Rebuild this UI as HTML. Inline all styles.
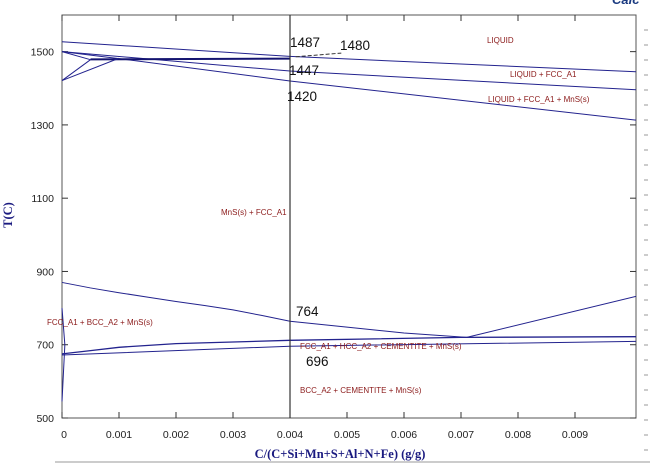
<!DOCTYPE html>
<html><head><meta charset="utf-8"><style>
body{margin:0;background:#fff;width:650px;height:464px;overflow:hidden}
svg{display:block;font-family:"Liberation Sans",sans-serif}
</style></head><body>
<svg id="c" width="650" height="464"></svg>
<script>
const xTicks=[0,0.001,0.002,0.003,0.004,0.005,0.006,0.007,0.008,0.009];
const xTickLabels=["0","0.001","0.002","0.003","0.004","0.005","0.006","0.007","0.008","0.009"];
const yTicks=[500,700,900,1100,1300,1500];
const liquidus=[[0,1527],[0.004,1487],[0.01007,1445]];
const solidusFcc=[[0,1500],[0.004,1447],[0.01007,1396]];
const solidusMns=[[0,1500],[0.001,1481],[0.004,1420],[0.01007,1313]];
const peritectic=[[0.0005,1479],[0.004,1481]];
const deltaA=[[0,1421],[0.0005,1478]];
const deltaB=[[0,1421],[0.001,1482]];
const deltaC=[[0,1500],[0.0005,1478]];
const a3=[[0,870],[0.0005,855],[0.001,842],[0.0015,830],[0.002,818],[0.0025,807],[0.003,795],[0.0035,780],[0.004,764],[0.005,748],[0.006,732],[0.0071,720]];
const acm=[[0.0071,720],[0.01007,832]];
const a1Upper=[[0,675],[0.0005,684],[0.001,693],[0.002,703],[0.004,712],[0.007,720],[0.01007,722]];
const a1Lower=[[0,672],[0.004,696],[0.01007,709]];
const spike=[[0,800],[0.00005,700],[0,545]];
const NS="http://www.w3.org/2000/svg";
const svg=document.getElementById('c');
const L=62,R=636,T=15,B=418,X0=0,X1=0.01007,Y0=500,Y1=1600;
const sx=v=>L+(v-X0)/(X1-X0)*(R-L);
const sy=v=>B-(v-Y0)/(Y1-Y0)*(B-T);
function el(tag,attrs,name,txt){const e=document.createElementNS(NS,tag);for(const k in attrs)e.setAttribute(k,attrs[k]);


if(txt!==undefined)e.textContent=txt;svg.appendChild(e);return e;}
el('rect',{x:L,y:T,width:R-L,height:B-T,fill:'none',stroke:'#555','stroke-width':1},'plot-frame');
xTicks.forEach((t,i)=>{el('line',{x1:sx(t),x2:sx(t),y1:B,y2:B-6,stroke:'#333'},'x-tick');
el('line',{x1:sx(t),x2:sx(t),y1:T,y2:T+6,stroke:'#333'},'x-tick-top');
el('text',{x:sx(t)+(i==0?2:0),y:B+20,'font-size':10.5,'text-anchor':'middle',fill:'#222'},'x-tick-label',xTickLabels[i]);});
yTicks.forEach(t=>{el('line',{x1:L,x2:L+6,y1:sy(t),y2:sy(t),stroke:'#333'},'y-tick');
el('line',{x1:R,x2:R-6,y1:sy(t),y2:sy(t),stroke:'#333'},'y-tick-right');
el('text',{x:L-8,y:sy(t)+4,'font-size':10.5,'text-anchor':'end',fill:'#222'},'y-tick-label',String(t));});
function line(pts,name,w,col){el('polyline',{points:pts.map(p=>sx(p[0])+','+sy(p[1])).join(' '),fill:'none',stroke:col||'#23238e','stroke-width':w||1},name);}
line(liquidus,'liquidus-line');line(solidusFcc,'solidus-fcc-line');line(solidusMns,'mns-line');
line(peritectic,'peritectic-line',2,'#141470');line(deltaA,'delta-line-a');line(deltaB,'delta-line-b');line(deltaC,'delta-line-c');
line(a3,'a3-line');line(acm,'acm-line');line(a1Upper,'a1-upper-line',1.3);line(a1Lower,'a1-lower-line');line(spike,'spike-line');
el('line',{x1:sx(0.004),x2:sx(0.004),y1:T,y2:B,stroke:'#333','stroke-width':1.2},'composition-marker');
el('line',{x1:sx(0.0041),x2:sx(0.0049),y1:sy(1486),y2:sy(1496),stroke:'#333','stroke-dasharray':'4,2'},'leader-line');
const nums=[["1487",290,47],["1480",340,50],["1447",289,75],["1420",287,101],["764",296,316],["696",306,366]];
nums.forEach(n=>el('text',{x:n[1],y:n[2],'font-size':13.5,fill:'#111'},'value-label',n[0]));
const reg=[["LIQUID",487,43],["LIQUID + FCC_A1",510,77],["LIQUID + FCC_A1 + MnS(s)",488,102],["MnS(s) + FCC_A1",221,215],["FCC_A1 + BCC_A2 + MnS(s)",47,325],["FCC_A1 + HCC_A2 + CEMENTITE + MnS(s)",300,349],["BCC_A2 + CEMENTITE + MnS(s)",300,393]];
reg.forEach(r=>el('text',{x:r[1],y:r[2],'font-size':8,fill:'#8b1a1a'},'region-label',r[0]));
el('text',{x:340,y:458,'font-size':12.5,'font-weight':'bold','font-family':'Liberation Serif,serif','text-anchor':'middle',fill:'#1a1a80'},'x-axis-title','C/(C+Si+Mn+S+Al+N+Fe) (g/g)');
el('text',{x:12,y:215,'font-size':12.5,'font-weight':'bold','font-family':'Liberation Serif,serif','text-anchor':'middle',fill:'#1a1a80',transform:'rotate(-90 12 215)'},'y-axis-title','T(C)');
el('text',{x:612,y:4,'font-size':13,'font-weight':'bold','font-style':'italic',fill:'#1a3a80'},'logo','Calc');
el('line',{x1:55,x2:650,y1:462,y2:462,stroke:'#999'},'bottom-border');
for(let y=30;y<464;y+=15)el('line',{x1:644,x2:648,y1:y,y2:y,stroke:'#999'},'side-marks');
</script>
</body></html>
